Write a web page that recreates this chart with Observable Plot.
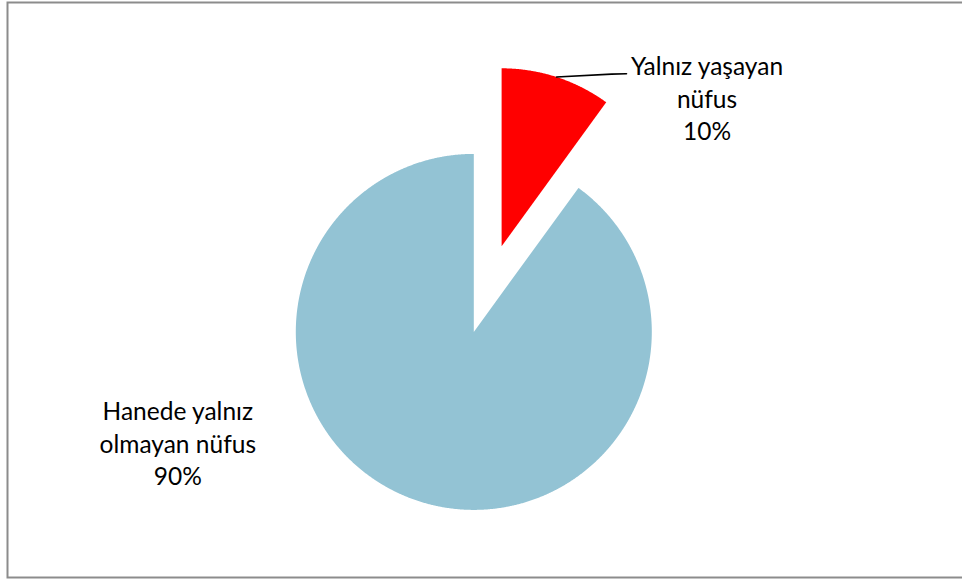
<!DOCTYPE html>
<html>
<head>
<meta charset="utf-8">
<script src="https://cdn.jsdelivr.net/npm/d3@7"></script>
<script src="https://cdn.jsdelivr.net/npm/@observablehq/plot@0.6"></script>
<style>
  html, body { margin: 0; padding: 0; background: #fff; }
</style>
</head>
<body>
<div id="chart"></div>
<script>
// ---- data ----
const categories = ["Yalnız yaşayan nüfus", "Hanede yalnız olmayan nüfus"];
const values = [10, 90];
const labelLines = [["Yalnız yaşayan", "nüfus"], ["Hanede yalnız", "olmayan nüfus"]];

// ---- styles / layout ----
const colors = ["#FF0000", "#93C3D4"];
const W = 962, H = 581;
const center = [473.3, 331.4];
const radius = 178;
const explode = [90, 0];
const fontSize = 24.5;
const labelBaselines = [[706.5, 76.3], [177.3, 421.3]];
const leaderEnd = [[611, 73.6], [626, 73.3]];

// ---- geometry from data ----
const total = d3.sum(values);
const arcs = d3.pie().sort(null).value(d => d)(values);

function pt(c, r, a) { return {x: c[0] + r * Math.sin(a), y: c[1] - r * Math.cos(a)}; }

const slices = arcs.map((a, i) => {
  const mid = (a.startAngle + a.endAngle) / 2;
  const c = pt(center, explode[i], mid);
  const c2 = [c.x, c.y];
  const pts = [{x: c.x, y: c.y}];
  const n = Math.max(2, Math.ceil((a.endAngle - a.startAngle) / (Math.PI / 720)));
  for (let k = 0; k <= n; k++) {
    pts.push(pt(c2, radius, a.startAngle + (a.endAngle - a.startAngle) * k / n));
  }
  pts.push({x: c.x, y: c.y});
  return {pts, center: c2, mid, category: categories[i]};
});

const labels = arcs.map((a, i) => ({
  x: labelBaselines[i][0],
  y: labelBaselines[i][1] - fontSize,
  text: [...labelLines[i], Math.round(values[i] / total * 100) + "%"].join("\n")
}));

// leader line for the small slice
const s0 = slices[0];
const leader = [pt(s0.center, radius, s0.mid), {x: leaderEnd[0][0], y: leaderEnd[0][1]}, {x: leaderEnd[1][0], y: leaderEnd[1][1]}];

const marks = [];
slices.forEach((s, i) => {
  marks.push(Plot.line(s.pts, {x: "x", y: "y", fill: colors[i], stroke: "none", curve: "linear"}));
});
marks.push(Plot.line(leader, {x: "x", y: "y", stroke: "#000", strokeWidth: 1.6}));
marks.push(Plot.text(labels, {
  x: "x", y: "y", text: "text",
  fontSize, lineHeight: 32.5 / fontSize, lineAnchor: "top", textAnchor: "middle", fill: "#000"
}));
marks.push(Plot.frame({stroke: "#8c8c8c", strokeWidth: 2, insetLeft: 7, insetTop: 2, insetBottom: 4, insetRight: -6}));

const chart = Plot.plot({
  width: W,
  height: H,
  margin: 0,
  x: {domain: [0, W], range: [0, W], axis: null},
  y: {domain: [0, H], range: [0, H], axis: null},
  style: {fontFamily: "Lato, 'Open Sans', sans-serif", background: "#fff", overflow: "visible"},
  marks
});
document.getElementById("chart").appendChild(chart);
</script>
</body>
</html>
